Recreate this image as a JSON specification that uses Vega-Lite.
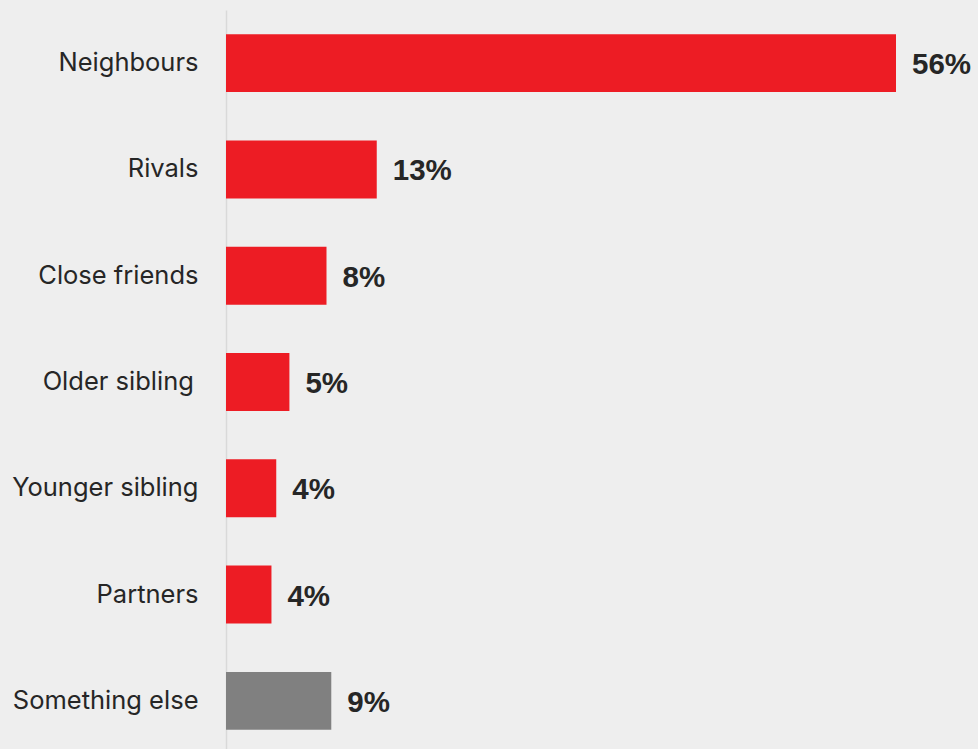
{
  "$schema": "https://vega.github.io/schema/vega-lite/v6.json",
  "width": 670,
  "height": 744,
  "autosize": "none",
  "padding": {"left": 226, "top": 10, "right": 82, "bottom": 0},
  "background": "#EEEEEE",
  "config": {"view": {"stroke": null}},
  "data": {"values": [
    {"cat": "Neighbours", "value": 56, "label": "56%", "grp": "main"},
    {"cat": "Rivals", "value": 12.6, "label": "13%", "grp": "main"},
    {"cat": "Close friends", "value": 8.4, "label": "8%", "grp": "main"},
    {"cat": "Older sibling\u2009\u200b", "value": 5.3, "label": "5%", "grp": "main"},
    {"cat": "Younger sibling", "value": 4.2, "label": "4%", "grp": "main"},
    {"cat": "Partners", "value": 3.8, "label": "4%", "grp": "main"},
    {"cat": "Something else", "value": 8.8, "label": "9%", "grp": "other"}
  ]},
  "encoding": {
    "y": {"field": "cat", "type": "nominal", "sort": null,
      "scale": {"paddingInner": 0.455, "paddingOuter": 0.2275},
      "axis": {"title": null, "ticks": false, "domain": true, "domainColor": "#D9D9D9", "domainWidth": 1.5,
        "labelFont": "Inter", "labelFontSize": 25.5, "labelColor": "#262626", "labelPadding": 28, "labelLimit": 300}},
    "x": {"field": "value", "type": "quantitative", "scale": {"domain": [0, 56]}, "axis": null}
  },
  "layer": [
    {"mark": {"type": "bar"},
     "encoding": {"color": {"field": "grp", "type": "nominal", "scale": {"domain": ["main", "other"], "range": ["#ED1C24", "#808080"]}, "legend": null}}},
    {"mark": {"type": "text", "align": "left", "baseline": "middle", "dx": 16, "dy": 2, "font": "Liberation Sans", "fontWeight": "bold", "fontSize": 29.5, "color": "#262626"},
     "encoding": {"text": {"field": "label"}}}
  ]
}
